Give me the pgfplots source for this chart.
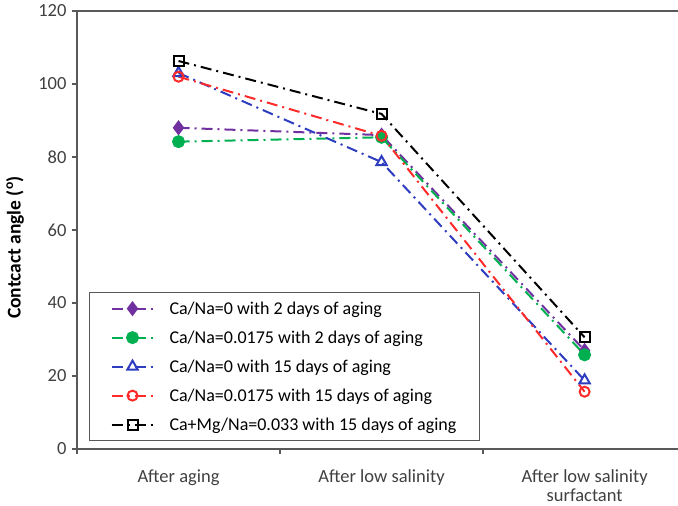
\documentclass[border=0pt]{standalone}
\usepackage{fontspec}
\setmainfont{Carlito}
\usepackage{pgfplots}
\pgfplotsset{compat=1.18}
\definecolor{cpurple}{HTML}{7030A0}
\definecolor{cgreen}{HTML}{00B050}
\definecolor{cblue}{HTML}{2E3CC0}
\definecolor{cred}{HTML}{FF2A2A}
\definecolor{axgray}{HTML}{595959}
\definecolor{txtgray}{HTML}{404040}
\begin{document}
\begin{tikzpicture}
\begin{axis}[
  scale only axis,
  width=601pt, height=438pt,
  xmin=0, xmax=2.96, ymin=0, ymax=120,
  axis lines=left,
  axis line style={axgray, line width=1.6pt, -},
  xtick={0.5,1.5,2.5},
  xticklabels={After aging, After low salinity, After low salinity\\surfactant},
  major x tick style={draw=none},
  minor xtick={0,1,2},
  minor x tick style={axgray, line width=1.2pt},
  minor tick length=5pt,
  ytick={0,20,...,120},
  major y tick style={axgray, line width=1.2pt},
  major tick length=5pt,
  tick align=outside,
  /pgf/number format/assume math mode=true,
  tick label style={font=\fontsize{18.5}{19}\selectfont, text=txtgray},
  xticklabel style={align=center, yshift=-12pt},
  yticklabel style={xshift=-2pt},
  ylabel={Contcact angle (\textsuperscript{o})},
  ylabel style={font=\fontsize{19.5}{20}\selectfont\bfseries, at={(axis description cs:-0.103,0.46)}, anchor=center, rotate=0},
  legend style={at={(rel axis cs:0.02,0.018)}, anchor=south west, draw=axgray, line width=1pt,
    font=\fontsize{18}{20}\selectfont, row sep=11pt, inner xsep=21pt, inner ysep=7pt,
    cells={anchor=west, inner xsep=1pt},
    /tikz/every odd column/.append style={column sep=13pt}},
  legend image code/.code={\draw[mark repeat=2, mark phase=2, #1] plot coordinates {(0pt,0pt) (21pt,0pt) (42pt,0pt)};},
  every axis plot/.append style={line width=2pt, dash pattern=on 11pt off 5pt on 2pt off 5pt},
  clip=false,
]
\addplot[cpurple, mark=diamond*, mark size=6pt, mark options={solid, fill=cpurple}]
  coordinates {(0.5,88.0) (1.5,86.0) (2.5,27.0)};
\addlegendentry{Ca/Na=0 with 2 days of aging}
\addplot[cgreen, mark=*, mark size=5.5pt, mark options={solid, fill=cgreen}]
  coordinates {(0.5,84.2) (1.5,85.4) (2.5,25.8)};
\addlegendentry{Ca/Na=0.0175 with 2 days of aging}
\addplot[cblue, mark=triangle, mark size=6pt, mark options={solid, line width=2pt, fill=white}]
  coordinates {(0.5,103.0) (1.5,78.6) (2.5,18.8)};
\addlegendentry{Ca/Na=0 with 15 days of aging}
\addplot[cred, mark=o, mark size=5pt, mark options={solid, line width=2pt, fill=white}]
  coordinates {(0.5,102.0) (1.5,85.8) (2.5,15.7)};
\addlegendentry{Ca/Na=0.0175 with 15 days of aging}
\addplot[black, mark=square, mark size=5pt, mark options={solid, line width=2pt, fill=white}]
  coordinates {(0.5,106.3) (1.5,91.8) (2.5,30.6)};
\addlegendentry{Ca+Mg/Na=0.033 with 15 days of aging}
\draw[axgray, line width=1.6pt] (rel axis cs:0,1) -- (rel axis cs:1,1);
\end{axis}
\pgfresetboundingbox
\path (-77pt,-57pt) rectangle (601pt,449pt);
\end{tikzpicture}
\end{document}
